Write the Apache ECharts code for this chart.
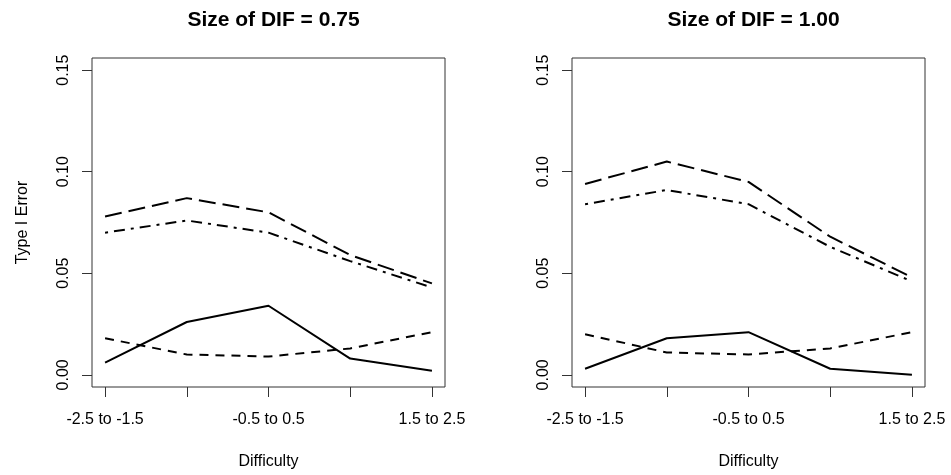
<!DOCTYPE html>
<html>
<head>
<meta charset="utf-8">
<script src="https://cdn.jsdelivr.net/npm/echarts@6/dist/echarts.min.js"></script>
<style>
html,body{margin:0;padding:0;background:#fff;}
#chart{width:951px;height:475px;}
</style>
</head>
<body>
<div id="chart"></div>
<script>
var categories = ['-2.5 to -1.5', '-1.5 to -0.5', '-0.5 to 0.5', '0.5 to 1.5', '1.5 to 2.5'];
var labeledCategoryIdx = [0, 2, 4];
var yTicks = [0, 0.05, 0.10, 0.15];
var panelTitles = ['Size of DIF = 0.75', 'Size of DIF = 1.00'];

// Panel 1 (DIF = 0.75)
var solid1    = [0.006, 0.026, 0.034, 0.008, 0.002];
var dashed1   = [0.018, 0.010, 0.009, 0.013, 0.021];
var longdash1 = [0.078, 0.087, 0.080, 0.059, 0.045];
var dotdash1  = [0.070, 0.076, 0.070, 0.056, 0.043];

// Panel 2 (DIF = 1.00)
var solid2    = [0.003, 0.018, 0.021, 0.003, 0.000];
var dashed2   = [0.020, 0.011, 0.010, 0.013, 0.021];
var longdash2 = [0.094, 0.105, 0.095, 0.068, 0.048];
var dotdash2  = [0.084, 0.091, 0.084, 0.063, 0.046];

var FONT = '"Liberation Sans", Arial, Helvetica, sans-serif';
var panels = [
  {solid: solid1, dashed: dashed1, longdash: longdash1, dotdash: dotdash1},
  {solid: solid2, dashed: dashed2, longdash: longdash2, dotdash: dotdash2}
];
var styles = {
  solid: 'solid',
  dashed: [9, 7],
  longdash: [17, 7],
  dotdash: [3, 6, 11, 6]
};

function toPts(arr) { return arr.map(function (v, i) { return [i + 1, v]; }); }

var gridLefts = [92, 572];
var gridW = 353;
var xPad = (categories.length - 1) * 0.04;
var yMin = yTicks[0], yMax = yTicks[yTicks.length - 1];
var yPad = (yMax - yMin) * 0.04;

var option = {
  animation: false,
  backgroundColor: '#fff',
  title: panelTitles.map(function (t, i) {
    return {
      text: t, left: gridLefts[i] + gridW / 2, top: 5, textAlign: 'center',
      textStyle: {fontFamily: FONT, fontWeight: 'bold', fontSize: 21, color: '#000'}
    };
  }),
  grid: gridLefts.map(function (l) {
    return {left: l, top: 58, width: gridW, height: 332, show: true, borderColor: '#333', borderWidth: 1, backgroundColor: 'transparent', containLabel: false};
  }),
  xAxis: gridLefts.map(function (l, i) {
    return {
      type: 'value', gridIndex: i, min: 1 - xPad, max: categories.length + xPad,
      name: 'Difficulty', nameLocation: 'middle', nameGap: 67,
      nameTextStyle: {fontFamily: FONT, fontSize: 16, color: '#000'},
      axisLine: {show: false, onZero: false},
      splitLine: {show: false},
      axisTick: {show: true, inside: false, length: 10, lineStyle: {color: '#333', width: 1},
                 customValues: categories.map(function (c, k) { return k + 1; })},
      axisLabel: {show: true, margin: 25, fontFamily: FONT, fontSize: 16, color: '#000',
                  customValues: labeledCategoryIdx.map(function (k) { return k + 1; }),
                  formatter: function (v) { return categories[Math.round(v) - 1] || ''; }}
    };
  }),
  yAxis: gridLefts.map(function (l, i) {
    return {
      type: 'value', gridIndex: i, min: yMin - yPad, max: yMax + yPad,
      name: i === 0 ? 'Type I Error' : '', nameLocation: 'middle', nameGap: 61,
      nameTextStyle: {fontFamily: FONT, fontSize: 16, color: '#000'},
      axisLine: {show: false, onZero: false},
      splitLine: {show: false},
      axisTick: {show: true, inside: false, length: 10, lineStyle: {color: '#333', width: 1},
                 customValues: yTicks},
      axisLabel: {show: true, rotate: 90, margin: 20, fontFamily: FONT, fontSize: 16, color: '#000',
                  customValues: yTicks,
                  formatter: function (v) { return v.toFixed(2); }}
    };
  }),
  series: []
};

panels.forEach(function (p, i) {
  ['solid', 'dashed', 'longdash', 'dotdash'].forEach(function (k) {
    option.series.push({
      type: 'line', name: k, xAxisIndex: i, yAxisIndex: i,
      data: toPts(p[k]), showSymbol: false, symbol: 'none',
      lineStyle: {color: '#000', width: 2, type: styles[k], cap: 'butt', join: 'round'}
    });
  });
});

var chart = echarts.init(document.getElementById('chart'), null, {renderer: 'canvas'});
chart.setOption(option);
</script>
</body>
</html>
